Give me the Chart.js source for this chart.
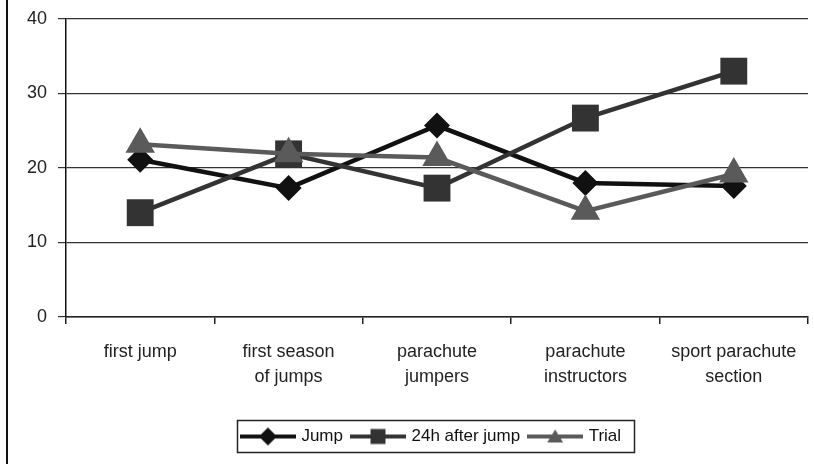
<!DOCTYPE html>
<html>
<head>
<meta charset="utf-8">
<script src="https://cdn.jsdelivr.net/npm/chart.js@4.4.1/dist/chart.umd.min.js"></script>
<style>
  html, body { margin: 0; padding: 0; background: #fff; }
  #wrap { position: relative; width: 814px; height: 464px; }
</style>
</head>
<body>
<div id="wrap"><canvas id="c" width="814" height="464"></canvas></div>
<script>
const categories = [["first jump"], ["first season", "of jumps"], ["parachute", "jumpers"], ["parachute", "instructors"], ["sport parachute", "section"]];
const seriesNames = ["Jump", "24h after jump", "Trial"];
const jumpValues = [21.1, 17.3, 25.7, 18.0, 17.6];
const after24hValues = [14.0, 21.9, 17.3, 26.7, 33.0];
const trialValues = [23.2, 21.9, 21.4, 14.2, 19.2];
const yTicks = [0, 10, 20, 30, 40];

const colors = ["#111111", "#333333", "#5a5a5a"];

function legendIcon(color, shape) {
  const cv = document.createElement('canvas');
  cv.width = 56; cv.height = 22;
  const g = cv.getContext('2d');
  g.strokeStyle = color; g.lineWidth = 4;
  g.beginPath(); g.moveTo(0, 11); g.lineTo(56, 11); g.stroke();
  g.fillStyle = color;
  g.beginPath();
  if (shape === 'diamond') {
    g.moveTo(28, 2); g.lineTo(37, 11); g.lineTo(28, 20); g.lineTo(19, 11); g.closePath();
  } else if (shape === 'square') {
    g.rect(20.5, 3.5, 15, 15);
  } else {
    g.moveTo(28, 4); g.lineTo(36, 17); g.lineTo(20, 17); g.closePath();
  }
  g.fill();
  return cv;
}
const icons = [legendIcon(colors[0], 'diamond'), legendIcon(colors[1], 'square'), legendIcon(colors[2], 'triangle')];

const sideLine = {
  id: 'sideLine',
  beforeDraw(chart) {
    const ctx = chart.ctx;
    ctx.save();
    ctx.strokeStyle = '#111'; ctx.lineWidth = 2;
    ctx.beginPath(); ctx.moveTo(7, 0); ctx.lineTo(7, chart.height); ctx.stroke();
    ctx.restore();
  }
};
const legendBox = {
  id: 'legendBox',
  afterUpdate(chart) {
    const lg = chart.legend;
    if (!lg) return;
    const ca = chart.chartArea;
    const shift = (ca.left + ca.right) / 2 - (lg.left + lg.right) / 2 - 5;
    lg.left += shift; lg.right += shift;
    (lg.legendHitBoxes || []).forEach(h => { h.left += shift; });
  },
  afterDraw(chart) {
    const lg = chart.legend;
    if (!lg || !lg.legendHitBoxes || !lg.legendHitBoxes.length) return;
    const hb = lg.legendHitBoxes;
    const l = Math.min(...hb.map(h => h.left)) - 6;
    const r = Math.max(...hb.map(h => h.left + h.width)) + 13;
    const t = Math.min(...hb.map(h => h.top)) - 8;
    const b = Math.max(...hb.map(h => h.top + h.height)) + 7;
    const ctx = chart.ctx;
    ctx.save();
    ctx.strokeStyle = '#222'; ctx.lineWidth = 1.5;
    ctx.strokeRect(Math.round(l) + 0.5, Math.round(t) + 0.5, Math.round(r - l), Math.round(b - t));
    ctx.restore();
  }
};

const datasets = [
  { label: seriesNames[0], data: jumpValues, borderColor: colors[0], backgroundColor: colors[0], borderWidth: 4.5,
    pointStyle: 'rectRot', pointRadius: 13, pointHoverRadius: 13, pointBorderWidth: 0, order: 3 },
  { label: seriesNames[1], data: after24hValues, borderColor: colors[1], backgroundColor: colors[1], borderWidth: 4.5,
    pointStyle: 'rect', pointRadius: 19, pointHoverRadius: 19, pointBorderWidth: 0, order: 2 },
  { label: seriesNames[2], data: trialValues, borderColor: colors[2], backgroundColor: colors[2], borderWidth: 4.5,
    pointStyle: 'triangle', pointRadius: 17, pointHoverRadius: 17, pointBorderWidth: 0, order: 1 }
];

new Chart(document.getElementById('c'), {
  type: 'line',
  data: { labels: categories, datasets },
  plugins: [sideLine, legendBox],
  options: {
    responsive: false,
    animation: false,
    events: [],
    layout: { autoPadding: false, padding: { left: 0, right: 6, top: 19, bottom: 9 } },
    plugins: {
      tooltip: { enabled: false },
      legend: {
        position: 'bottom',
        labels: {
          usePointStyle: true,
          pointStyleWidth: 50,
          padding: 10,
          color: '#111',
          font: { family: "'Liberation Sans', Arial, sans-serif", size: 17 },
          generateLabels(chart) {
            return chart.data.datasets.map((ds, i) => ({
              text: ds.label, pointStyle: icons[i], fillStyle: ds.borderColor,
              strokeStyle: ds.borderColor, lineWidth: 0, hidden: false, datasetIndex: i, fontColor: '#111'
            }));
          }
        }
      }
    },
    scales: {
      x: {
        offset: true,
        afterFit(s) { s.height = 101; s.paddingLeft = 0; s.paddingRight = 0; },
        grid: { display: true, drawOnChartArea: false, drawTicks: true, tickLength: 7, color: '#222', lineWidth: 1.5, offset: true },
        border: { display: true, color: '#222', width: 1.5 },
        ticks: { color: '#222', padding: 15, maxRotation: 0, autoSkip: false,
          font: { family: "'Liberation Sans', Arial, sans-serif", size: 18, lineHeight: 1.4 } }
      },
      y: {
        min: 0, max: 40,
        afterFit(s) { s.width = 66; s.paddingTop = 0; s.paddingBottom = 0; },
        afterBuildTicks(s) { s.ticks = yTicks.map(v => ({ value: v })); },
        grid: { color: '#333', lineWidth: 1.2, tickLength: 8, drawTicks: true },
        border: { display: true, color: '#111', width: 1.5 },
        ticks: { color: '#222', padding: 11,
          font: { family: "'Liberation Sans', Arial, sans-serif", size: 18 } }
      }
    }
  }
});
</script>
</body>
</html>
